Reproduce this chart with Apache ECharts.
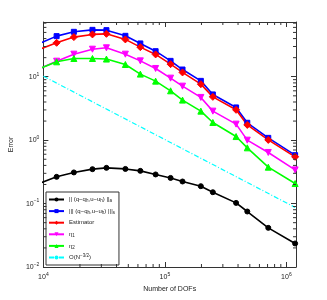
<!DOCTYPE html>
<html>
<head>
<meta charset="utf-8">
<script src="https://cdn.jsdelivr.net/npm/echarts@6/dist/echarts.min.js"></script>
<style>html,body{margin:0;padding:0;background:#fff;}#c{width:327px;height:300px;}</style>
</head>
<body>
<div id="c"></div>
<script>
// Data
const dofs   = [9000, 12850, 17820, 25350, 33030, 47300, 62800, 83900, 111400, 139700, 197700, 248200, 385500, 476700, 709500, 1180000];
const errA   = [0.204, 0.264, 0.310, 0.349, 0.366, 0.352, 0.328, 0.288, 0.254, 0.223, 0.188, 0.151, 0.1026, 0.075, 0.0414, 0.0235];
const errS   = [32.5, 43.7, 51.1, 54.9, 54.3, 44.2, 33.5, 25.3, 17.8, 13.0, 8.61, 5.26, 3.28, 1.88, 1.087, 0.580];
const estim  = [26.5, 34.3, 42.2, 46.5, 47.5, 38.8, 29.3, 22.5, 15.8, 11.7, 7.64, 4.82, 3.01, 1.74, 1.01, 0.546];
const eta1   = [13.1, 17.6, 22.7, 27.2, 28.6, 22.7, 17.8, 13.5, 9.51, 7.11, 4.72, 2.87, 1.79, 1.0, 0.64, 0.340];
const eta2   = [13.1, 17.2, 19.4, 19.4, 19.0, 15.6, 11.0, 8.53, 6.0, 4.28, 2.87, 1.90, 1.14, 0.757, 0.375, 0.207];
const refX   = [10000, 1180000];
const refY   = [10.2, 0.087];
const xRange = [1e4, 1.2e6];
const yRange = [1e-2, 73];
const legendNames = ['errA', 'errS', 'est', 'eta1', 'eta2', 'ref'];
const legendLabels = {
  errA: '|| (q−q{sub|h},u−u{sub|h}) ||{sub|a}',
  errS: '||| (q−q{sub|h},u−u{sub|h}) |||{sub|s}',
  est: 'Estimator',
  eta1: 'η{sub|1}',
  eta2: 'η{sub|2}',
  ref: 'O(N{sup|−3/2})'
};

const FONT = 'Liberation Sans';
const AX = '#333';
function zip(xs, ys) { return xs.map((x, i) => [x, ys[i]]); }
function powLabel(v) {
  const e = Math.round(Math.log10(v));
  return '10{sup|' + (e < 0 ? '−' + (-e) : e) + '}';
}
function minorList(lo, hi) {
  const out = [];
  for (let e = Math.floor(Math.log10(lo)); e <= Math.ceil(Math.log10(hi)); e++) {
    for (let k = 2; k <= 9; k++) {
      const v = k * Math.pow(10, e);
      if (v > lo && v < hi) out.push(v);
    }
  }
  return out;
}
const xMinor = minorList(xRange[0], xRange[1]);
const yMinor = minorList(yRange[0], yRange[1]);

const supRich = {
  sup: { fontSize: 5, fontFamily: FONT, color: '#222', padding: [0, 0, 5, 0] },
  sub: { fontSize: 5, fontFamily: FONT, color: '#222', padding: [4, 0, 0, 0] }
};
const legRich = {
  sup: { fontSize: 4.5, fontFamily: FONT, color: '#222', padding: [0, 0, 4, 0] },
  sub: { fontSize: 4.5, fontFamily: FONT, color: '#222', padding: [3, 0, 0, 0] }
};

function axisCommon(extra) {
  return Object.assign({
    type: 'log', logBase: 10,
    axisLine: { show: true, lineStyle: { color: AX, width: 1 } },
    axisTick: { show: true, inside: true, length: 5, lineStyle: { color: AX } },
    splitLine: { show: false },
    minorTick: { show: false },
  }, extra);
}

function lineSeries(name, data, color, symbol, size, rot) {
  return {
    name: name, type: 'line', data: data, clip: true,
    symbol: symbol, symbolSize: size, symbolRotate: rot || 0,
    lineStyle: { color: color, width: 1.6 },
    itemStyle: { color: color, borderColor: color },
    emphasis: { disabled: true }, animation: false, z: 3
  };
}

function tickSeries(data, isX) {
  return {
    type: 'custom', silent: true, animation: false, z: 4,
    data: data.map(v => isX ? [v, 1] : [1e5, v]),
    renderItem: function (params, api) {
      const cs = params.coordSys;
      const p = api.coord([api.value(0), api.value(1)]);
      const st = { stroke: AX, lineWidth: 1 };
      if (isX) {
        return { type: 'group', children: [
          { type: 'line', shape: { x1: p[0], y1: cs.y + cs.height, x2: p[0], y2: cs.y + cs.height - 3 }, style: st },
          { type: 'line', shape: { x1: p[0], y1: cs.y, x2: p[0], y2: cs.y + 3 }, style: st }
        ]};
      }
      return { type: 'group', children: [
        { type: 'line', shape: { x1: cs.x, y1: p[1], x2: cs.x + 3, y2: p[1] }, style: st },
        { type: 'line', shape: { x1: cs.x + cs.width, y1: p[1], x2: cs.x + cs.width - 3, y2: p[1] }, style: st }
      ]};
    }
  };
}

const chart = echarts.init(document.getElementById('c'), null, { renderer: 'canvas' });
chart.setOption({
  backgroundColor: '#fff',
  animation: false,
  textStyle: { fontFamily: FONT },
  grid: { left: 43, top: 22, width: 253, height: 245, containLabel: false },
  xAxis: [
    axisCommon({
      position: 'bottom', min: xRange[0], max: xRange[1],
      name: 'Number of DOFs', nameLocation: 'middle', nameGap: 15,
      nameTextStyle: { fontSize: 7, fontFamily: FONT, color: '#222' },
      axisLabel: { show: true, fontSize: 7, fontFamily: FONT, color: '#222', margin: 5,
        formatter: powLabel, rich: supRich, showMaxLabel: false }
    }),
    axisCommon({ position: 'top', min: xRange[0], max: xRange[1], axisLabel: { show: false } })
  ],
  yAxis: [
    axisCommon({
      position: 'left', min: yRange[0], max: yRange[1],
      name: 'Error', nameLocation: 'middle', nameGap: 18,
      nameTextStyle: { fontSize: 7, fontFamily: FONT, color: '#222' },
      axisLabel: { show: true, fontSize: 7, fontFamily: FONT, color: '#222', margin: 4,
        formatter: powLabel, rich: supRich, showMaxLabel: false }
    }),
    axisCommon({ position: 'right', min: yRange[0], max: yRange[1], axisLabel: { show: false } })
  ],
  legend: {
    data: legendNames, orient: 'vertical', left: 46, top: 192,
    backgroundColor: '#fff', borderColor: AX, borderWidth: 1,
    padding: [3, 4, 3, 2], itemGap: 2.6, itemWidth: 15, itemHeight: 5,
    textStyle: { fontSize: 6, fontFamily: FONT, color: '#222', lineHeight: 9, rich: legRich },
    formatter: n => legendLabels[n], selectedMode: false
  },
  series: [
    lineSeries('errA', zip(dofs, errA), '#000000', 'circle', 5),
    lineSeries('errS', zip(dofs, errS), '#0000ff', 'rect', 5),
    lineSeries('est', zip(dofs, estim), '#ff0000', 'diamond', 7),
    lineSeries('eta1', zip(dofs, eta1), '#ff00ff', 'triangle', 6, 180),
    lineSeries('eta2', zip(dofs, eta2), '#00ff00', 'triangle', 6),
    {
      name: 'ref', type: 'line', data: zip(refX, refY), clip: true, symbol: 'none',
      lineStyle: { color: '#00ffff', width: 1.2, type: [5, 2, 1, 2] },
      itemStyle: { color: '#00ffff' }, animation: false, z: 2
    },
    tickSeries(xMinor, true),
    tickSeries(yMinor, false)
  ]
});
</script>
</body>
</html>
